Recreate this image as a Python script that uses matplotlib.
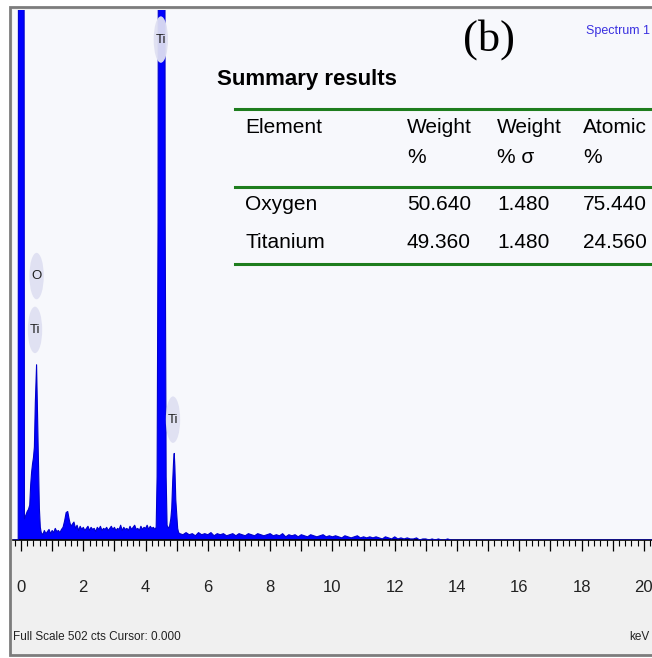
import numpy as np
import matplotlib
matplotlib.use("Agg")
import matplotlib.pyplot as plt
from matplotlib.patches import Ellipse, Rectangle
from matplotlib.ticker import MultipleLocator

W, H = 652, 658

# EDS spectrum, counts (full scale 502 cts)
low_keV = [-0.26, -0.09, -0.07, 0.08, 0.11, 0.16, 0.20, 0.24, 0.28, 0.31,
           0.34, 0.37, 0.40, 0.43, 0.46, 0.50, 0.53, 0.56, 0.59, 0.62]
low_cts = [0, 0, 1500, 1500, 20, 24, 27, 29, 33, 52,
           64, 72, 78, 88, 130, 166, 120, 70, 30, 12]

bg1_keV = np.linspace(0.65, 4.30, 74)
bg1_cts = [7, 5, 9, 6, 8, 10, 6, 9, 7, 11, 8, 9, 7, 10, 12,
           18, 26, 27, 19, 13, 15,
           17, 11, 14, 9, 13, 10, 12, 9, 11, 13,
           9, 12, 10, 11, 8, 12, 10, 13, 9, 11,
           10, 12, 9, 11, 13, 10, 12, 9, 11, 10,
           14, 9, 12, 10, 11, 9, 13, 10, 12, 14,
           10, 11, 9, 13, 10, 12, 11, 14, 10, 13,
           11, 12, 10]

ti_keV = [4.34, 4.37, 4.40, 4.44, 4.59, 4.63, 4.66, 4.69, 4.73, 4.77,
          4.81, 4.84, 4.87, 4.90, 4.92, 4.94, 4.97, 5.00, 5.03, 5.06]
ti_cts = [12, 60, 300, 1500, 1500, 300, 60, 14, 11, 13,
          20, 30, 55, 75, 82, 70, 38, 24, 11, 7]

bg2_keV = np.linspace(5.1, 14.0, 90)
bg2_cts = [6, 5, 7, 5, 6, 4, 7, 5, 6, 5,
           7, 4, 6, 5, 6, 4, 5, 6, 4, 6,
           5, 4, 6, 5, 4, 6, 5, 4, 5, 6,
           4, 5, 4, 6, 3, 5, 4, 5, 3, 5,
           4, 3, 5, 4, 3, 4, 5, 3, 4, 3,
           4, 3, 2, 4, 3, 2, 3, 4, 2, 3,
           2, 3, 2, 3, 2, 1, 3, 2, 1, 3,
           1, 2, 1, 2, 1, 1, 2, 0, 1, 1,
           0, 1, 0, 1, 0, 0, 1, 0, 0, 0]

end_keV = [20.3]
end_cts = [0]

full_scale = 502
tick_keV = list(range(0, 21, 2))

# peak marker bubbles
peak_names = ['Ti', 'O', 'Ti', 'Ti']
peak_keV = [4.49, 0.50, 0.45, 4.88]
peak_cts = [474, 250, 199, 114]

# summary table
col_top = ['Element', 'Weight', 'Weight', 'Atomic']
col_bottom = ['', '%', '% σ', '%']
elements = ['Oxygen', 'Titanium']
weight_pct = ['50.640', '49.360']
weight_sigma = ['1.480', '1.480']
atomic_pct = ['75.440', '24.560']

keV = np.concatenate([low_keV, bg1_keV, ti_keV, bg2_keV, end_keV])
cts = np.concatenate([low_cts, bg1_cts, ti_cts, bg2_cts, end_cts])

sans = ['Liberation Sans', 'DejaVu Sans']


def fx(x):
    return x / W


def fy(y):
    return 1 - y / H


fig = plt.figure(figsize=(W / 100, H / 100), dpi=100)
fig.patch.set_facecolor('white')

# sunken panel behind the spectrum (drawn under the axes)
fig.patches.append(Rectangle((fx(10), fy(655)), fx(670) - fx(10), fy(7) - fy(655),
                             transform=fig.transFigure, facecolor='#f0f0f0',
                             edgecolor='#7c7c7c', lw=2, zorder=-5))

ax = fig.add_axes([fx(13), fy(540), fx(652) - fx(13), fy(10) - fy(540)])
ax.set_facecolor('#f7f8fc')
ax.fill_between(keV, cts, color='#0000ff', lw=0, zorder=2)
ax.plot(keV, cts, color='#0000cc', lw=0.8, zorder=3)
ax.set_xlim(-0.257, 20.26)
ax.set_ylim(0, full_scale)

ax.xaxis.set_major_locator(MultipleLocator(1))
ax.xaxis.set_minor_locator(MultipleLocator(0.2))
ax.set_xticks(range(21))
ax.set_xticklabels([str(v) if v in tick_keV else '' for v in range(21)],
                   fontfamily=sans, fontsize=12, color='#222222')
ax.tick_params(axis='x', which='major', length=8, width=0.9, pad=21)
ax.tick_params(axis='x', which='minor', length=4, width=0.8)
ax.set_yticks([])
for s in ['top', 'left', 'right']:
    ax.spines[s].set_visible(False)
ax.spines['bottom'].set_linewidth(1.2)

for name, x, y in zip(peak_names, peak_keV, peak_cts):
    ax.add_patch(Ellipse((x, y), 0.46, 44, facecolor='#dfe0f2', edgecolor='none',
                         alpha=0.95, zorder=4))
    ax.text(x, y, name, ha='center', va='center', fontsize=9.5,
            fontfamily=sans, color='#202020', zorder=5)

# header texts
fig.text(fx(489), fy(40), '(b)', ha='center', va='center', fontsize=32,
         fontfamily=['Liberation Serif', 'DejaVu Serif'])
fig.text(fx(650), fy(31), 'Spectrum 1', ha='right', va='center', fontsize=9,
         fontfamily=sans, color='#3a30e0')
fig.text(fx(217), fy(85), 'Summary results', ha='left', va='baseline',
         fontsize=16, fontweight='bold', fontfamily=sans)

# table
for y in [109, 187, 264]:
    fig.add_artist(plt.Line2D([fx(235), fx(652)], [fy(y), fy(y)], color='#1e7d1e',
                              lw=2.2, transform=fig.transFigure))

col_x = [245, 407, 497, 583]
for x, t1, t2 in zip(col_x, col_top, col_bottom):
    fig.text(fx(x), fy(133), t1, ha='left', va='baseline', fontsize=15, fontfamily=sans)
    fig.text(fx(x), fy(163), t2, ha='left', va='baseline', fontsize=15, fontfamily=sans)

for i, row in enumerate(zip(elements, weight_pct, weight_sigma, atomic_pct)):
    for x, t in zip(col_x, row):
        fig.text(fx(x), fy(210 + 38 * i), t, ha='left', va='baseline',
                 fontsize=15, fontfamily=sans)

# status line
fig.text(fx(13), fy(637), 'Full Scale 502 cts Cursor: 0.000', ha='left', va='center',
         fontsize=8.5, fontfamily=sans, color='#222222')
fig.text(fx(650), fy(637), 'keV', ha='right', va='center', fontsize=8.5,
         fontfamily=sans, color='#222222')

fig.savefig('out.png', dpi=100)
